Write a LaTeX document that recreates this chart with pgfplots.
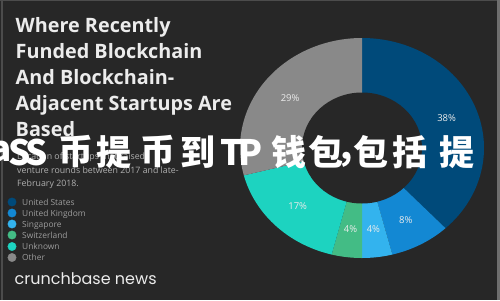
\documentclass[border=0pt]{standalone}
\usepackage{fontspec}
\setmainfont{Open Sans}
\newfontfamily\brand{Poppins}
\newfontfamily\cjk{Noto Sans CJK SC}
\usepackage{pgfplots}
\pgfplotsset{compat=1.18}

\definecolor{bg}{HTML}{272727}
\definecolor{edge}{HTML}{4C4C4C}
\definecolor{edgeR}{HTML}{6E6E6E}
\definecolor{titlec}{HTML}{ECECEC}
\definecolor{subc}{HTML}{AFAFAF}
\definecolor{legc}{HTML}{9C9C9C}
\definecolor{cUS}{HTML}{004A7A}
\definecolor{cUK}{HTML}{1388D3}
\definecolor{cSG}{HTML}{33B3EE}
\definecolor{cCH}{HTML}{43BC85}
\definecolor{cUN}{HTML}{1DD3C0}
\definecolor{cOT}{HTML}{898989}

% ring geometry: centre and outer radii
\def\cx{362}\def\cy{148}
\def\rx{122}\def\ry{110}

% one headline glyph, centred at x = #1
\newcommand\glyph[3][152]{\node at (#2,#1) {#3};}

\begin{document}
\begin{tikzpicture}[x=1pt,y=1pt]
\path[use as bounding box, clip] (0,0) rectangle (500,300);
\fill[bg] (0,0) rectangle (500,300);
\fill[edge] (1.2,0) rectangle (2.8,300);
\fill[edge] (0,298.6) rectangle (500,300);
\fill[edgeR] (497,0) rectangle (500,300);

\begin{axis}[at={(0,0)}, anchor=south west, scale only axis,
  width=500pt, height=300pt, xmin=0, xmax=500, ymin=0, ymax=300,
  y dir=reverse, hide axis, clip=false]

% donut sectors, clockwise from twelve o'clock, in percent
\addplot[fill=cUS, draw=none, domain=0:38, samples=90, variable=\t]
  ({\cx+\rx*sin(3.6*\t)}, {\cy-\ry*cos(3.6*\t)}) -- (\cx,\cy) -- cycle;
\addplot[fill=cUK, draw=none, domain=38:46, samples=30, variable=\t]
  ({\cx+\rx*sin(3.6*\t)}, {\cy-\ry*cos(3.6*\t)}) -- (\cx,\cy) -- cycle;
\addplot[fill=cSG, draw=none, domain=46:50, samples=20, variable=\t]
  ({\cx+\rx*sin(3.6*\t)}, {\cy-\ry*cos(3.6*\t)}) -- (\cx,\cy) -- cycle;
\addplot[fill=cCH, draw=none, domain=50:54, samples=20, variable=\t]
  ({\cx+\rx*sin(3.6*\t)}, {\cy-\ry*cos(3.6*\t)}) -- (\cx,\cy) -- cycle;
\addplot[fill=cUN, draw=none, domain=54:71, samples=50, variable=\t]
  ({\cx+\rx*sin(3.6*\t)}, {\cy-\ry*cos(3.6*\t)}) -- (\cx,\cy) -- cycle;
\addplot[fill=cOT, draw=none, domain=71:100, samples=80, variable=\t]
  ({\cx+\rx*sin(3.6*\t)}, {\cy-\ry*cos(3.6*\t)}) -- (\cx,\cy) -- cycle;
\fill[bg] (\cx,\cy) ellipse [x radius=60, y radius=55.5];

% sector labels at the middle of each sector
\begin{scope}[every node/.style={text=titlec, font=\fontsize{9.5}{11}\selectfont}]
\node at ({\cx+91*sin(3.6*19)},   {\cy-82*cos(3.6*19)})   {38\%};
\node at ({\cx+91*sin(3.6*42)},   {\cy-82*cos(3.6*42)})   {8\%};
\node at ({\cx+91*sin(3.6*48)},   {\cy-82*cos(3.6*48)})   {4\%};
\node at ({\cx+91*sin(3.6*52)},   {\cy-82*cos(3.6*52)})   {4\%};
\node at ({\cx+91*sin(3.6*62.5)}, {\cy-82*cos(3.6*62.5)}) {17\%};
\node at ({\cx+91*sin(3.6*85.5)}, {\cy-82*cos(3.6*85.5)}) {29\%};
\end{scope}

% title
\begin{scope}[every node/.style={anchor=base west, inner sep=0pt, text=titlec,
   font=\bfseries\fontsize{19.8}{22}\selectfont}]
\node at (15.5,32)  {Where Recently};
\node at (15.5,58)  {Funded Blockchain};
\node at (15.5,84)  {And Blockchain-};
\node at (15.5,110) {Adjacent Startups Are};
\node at (15.5,136) {Based};
\end{scope}

% subtitle
\begin{scope}[every node/.style={anchor=base west, inner sep=0pt, text=subc,
   font=\fontsize{8.8}{11}\selectfont}]
\node at (17,159) {Location of startups that raised};
\node at (17,173) {venture rounds between 2017 and late-};
\node at (17,186.5) {February 2018.};
\end{scope}

% legend
\addplot[only marks, mark=*, mark size=4.2pt, cUS, mark options={draw=cUS, fill=cUS}] coordinates {(12,202)};
\addplot[only marks, mark=*, mark size=4.2pt, cUK, mark options={draw=cUK, fill=cUK}] coordinates {(12,213)};
\addplot[only marks, mark=*, mark size=4.2pt, cSG, mark options={draw=cSG, fill=cSG}] coordinates {(12,224)};
\addplot[only marks, mark=*, mark size=4.2pt, cCH, mark options={draw=cCH, fill=cCH}] coordinates {(12,235)};
\addplot[only marks, mark=*, mark size=4.2pt, cUN, mark options={draw=cUN, fill=cUN}] coordinates {(12,246.5)};
\addplot[only marks, mark=*, mark size=4.2pt, cOT, mark options={draw=cOT, fill=cOT}] coordinates {(12,257.5)};
\begin{scope}[every node/.style={anchor=base west, inner sep=0pt, text=legc,
   font=\fontsize{8.4}{10}\selectfont}]
\node at (22,205)   {United States};
\node at (22,216)   {United Kingdom};
\node at (22,227)   {Singapore};
\node at (22,238)   {Switzerland};
\node at (22,249.5) {Unknown};
\node at (22,260.5) {Other};
\end{scope}

\node[anchor=base west, inner sep=0pt, text=titlec,
  font=\brand\fontsize{16}{18}\selectfont] at (14.5,284) {crunchbase news};

% headline banner across the picture
\begin{scope}[every node/.style={inner sep=0pt, text=white,
   font=\cjk\bfseries\fontsize{35}{38}\selectfont}]
\glyph{1}{a}
\glyph{20}{S}
\glyph{37}{S}
\glyph{76}{币}
\glyph{114}{提}
\glyph{158}{币}
\glyph{198}{到}
\glyph{232}{T}
\glyph{251}{P}
\glyph{289}{钱}
\glyph{326}{包}
\glyph[160]{347}{,}
\glyph{371}{包}
\glyph{410}{括}
\glyph{457}{提}
\end{scope}
\end{axis}
\end{tikzpicture}
\end{document}
